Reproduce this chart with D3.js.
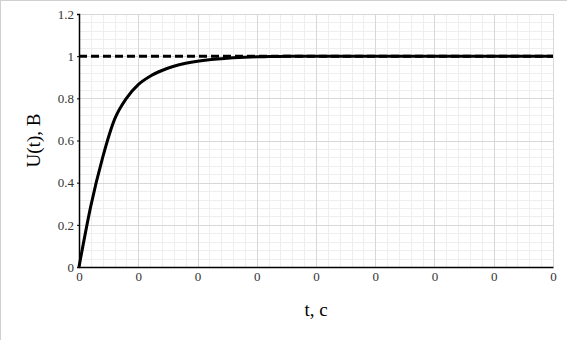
<!DOCTYPE html>
<html>
<head>
<meta charset="utf-8">
<script src="https://cdn.jsdelivr.net/npm/d3@7"></script>
<style>
  body { margin: 0; background: #fff; }
  svg { display: block; }
</style>
</head>
<body>
<div id="graph"></div>
<script>
// t in seconds (tiny values -> every tick label rounds to "0")
let tValues = [0, 0.01, 0.02, 0.03, 0.04, 0.05, 0.06, 0.07, 0.08, 0.09, 0.10,
               0.11, 0.12, 0.13, 0.14, 0.15, 0.16, 0.17, 0.18, 0.20, 0.25, 0.30, 0.35, 0.40];
let uValues = [0, 0.29, 0.52, 0.70, 0.80, 0.865, 0.905, 0.932, 0.952, 0.966, 0.976,
               0.983, 0.988, 0.992, 0.995, 0.997, 0.998, 0.999, 1, 1, 1, 1, 1, 1];
let steadyValue = 1;
let xTicks = [0, 0.05, 0.1, 0.15, 0.2, 0.25, 0.3, 0.35, 0.4];
let yTicks = [0, 0.2, 0.4, 0.6, 0.8, 1, 1.2];

let width = 567, height = 340;
let margin = {top: 14, right: 14, bottom: 73, left: 79};
let w = width - margin.left - margin.right, h = height - margin.top - margin.bottom;

let root = d3.select("#graph").append("svg")
    .attr("width", width)
    .attr("height", height);

// frame on left and top edges
root.append("line").attr("x1", 0.5).attr("y1", 0).attr("x2", 0.5).attr("y2", height)
    .attr("stroke", "#d0d0d0");
root.append("line").attr("x1", 0).attr("y1", 0.5).attr("x2", width).attr("y2", 0.5)
    .attr("stroke", "#d0d0d0");

let svg = root.append("g")
    .attr("transform", `translate(${margin.left},${margin.top})`);

let x = d3.scaleLinear().domain([0, 0.4]).range([0, w]);
let y = d3.scaleLinear().domain([0, 1.2]).range([h, 0]);

// minor grid
let xMinor = d3.range(0, 41).map(function(i) { return i * 0.01; });
let yMinor = d3.range(0, 31).map(function(i) { return i * 0.04; });
svg.append("g").selectAll("line").data(xMinor).enter().append("line")
    .attr("x1", function(d) { return Math.round(x(d)) + 0.5; })
    .attr("x2", function(d) { return Math.round(x(d)) + 0.5; })
    .attr("y1", 0).attr("y2", h)
    .attr("stroke", "#eeeeee");
svg.append("g").selectAll("line").data(yMinor).enter().append("line")
    .attr("y1", function(d) { return Math.round(y(d)) + 0.5; })
    .attr("y2", function(d) { return Math.round(y(d)) + 0.5; })
    .attr("x1", 0).attr("x2", w)
    .attr("stroke", "#eeeeee");

// major grid
svg.append("g").selectAll("line").data(xTicks).enter().append("line")
    .attr("x1", function(d) { return Math.round(x(d)) + 0.5; })
    .attr("x2", function(d) { return Math.round(x(d)) + 0.5; })
    .attr("y1", 0).attr("y2", h)
    .attr("stroke", "#d8d8d8");
svg.append("g").selectAll("line").data(yTicks).enter().append("line")
    .attr("y1", function(d) { return Math.round(y(d)) + 0.5; })
    .attr("y2", function(d) { return Math.round(y(d)) + 0.5; })
    .attr("x1", 0).attr("x2", w)
    .attr("stroke", "#d8d8d8");

// axes
let yAxis = svg.append("g")
    .call(d3.axisLeft(y).tickValues(yTicks).tickSize(2).tickPadding(3)
        .tickFormat(function(d) { return d3.format("")(+d.toFixed(1)); }));
let xAxis = svg.append("g")
    .attr("transform", `translate(0,${h})`)
    .call(d3.axisBottom(x).tickValues(xTicks).tickSize(0).tickPadding(5)
        .tickFormat(d3.format(".0f")));
[xAxis, yAxis].forEach(function(a) {
    a.attr("font-family", "'Liberation Serif', serif").attr("font-size", 13);
    a.selectAll("text").attr("fill", "#333");
    a.select(".domain").attr("stroke", "#000").attr("stroke-width", 1.5);
});

// steady-state dashed line
svg.append("line")
    .attr("x1", x(0)).attr("x2", x(0.4))
    .attr("y1", y(steadyValue)).attr("y2", y(steadyValue))
    .attr("stroke", "#000")
    .attr("stroke-width", 3)
    .attr("stroke-dasharray", "8,4");

// response curve
let line = d3.line()
    .x(function(d) { return x(d[0]); })
    .y(function(d) { return y(d[1]); })
    .curve(d3.curveMonotoneX);
svg.append("path")
    .datum(tValues.map(function(t, i) { return [t, uValues[i]]; }))
    .attr("d", line)
    .attr("fill", "none")
    .attr("stroke", "#000")
    .attr("stroke-width", 3);

// labels
root.append("text")
    .attr("transform", `translate(${margin.left + w / 2}, 316)`)
    .style("text-anchor", "middle")
    .style("font-family", "'Liberation Serif', serif")
    .style("font-size", "19px")
    .text("t, c");

root.append("text")
    .attr("transform", `translate(40, ${margin.top + h / 2}) rotate(-90)`)
    .style("text-anchor", "middle")
    .style("font-family", "'Liberation Serif', serif")
    .style("font-size", "19px")
    .text("U(t), B");
</script>
</body>
</html>
